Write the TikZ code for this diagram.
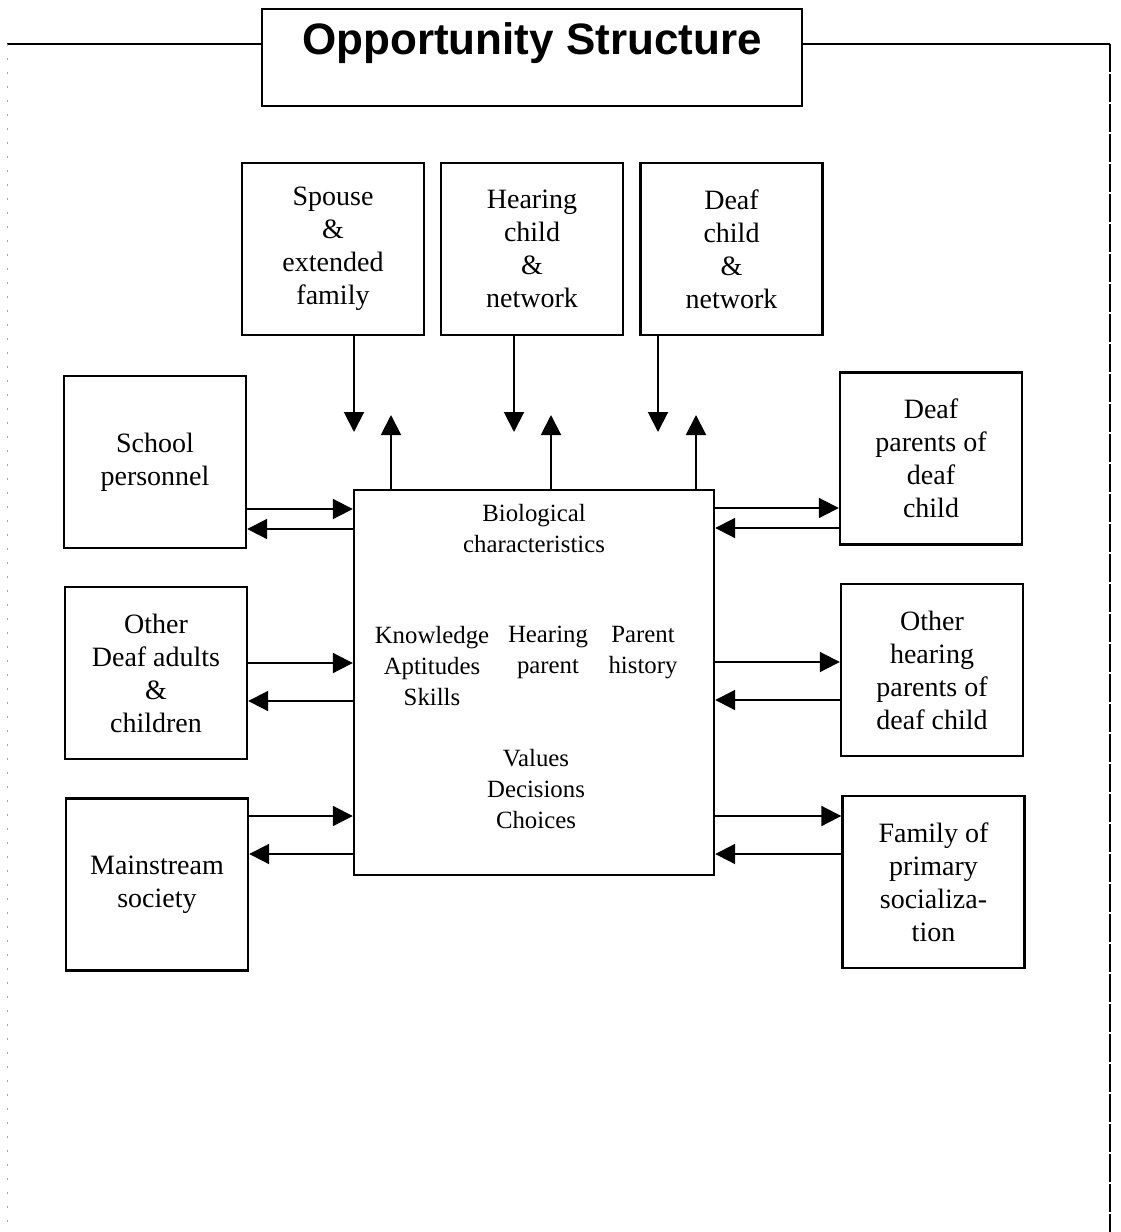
\documentclass[tikz,border=0pt]{standalone}
\usepackage{fontspec}
\setmainfont{Liberation Serif}
\newfontfamily\headfont{Liberation Sans}
\usetikzlibrary{positioning}
\usetikzlibrary{arrows.meta}

\begin{document}
\begin{tikzpicture}
[x=0.5pt,y=-0.5pt,
 box/.style={shape=rectangle,draw,line width=1.2pt,minimum width=91pt,minimum height=86pt,
  inner sep=0pt,align=center,font=\fontsize{14}{16.5}\selectfont},
 corebox/.style={shape=rectangle,draw,line width=1.2pt,minimum width=180pt,minimum height=192.5pt,inner sep=0pt},
 inside/.style={align=center,inner sep=0pt,font=\fontsize{12.4}{15.5}\selectfont},
 link/.style={line width=1pt,-{Triangle[length=10pt,width=10pt]}},
 frame/.style={line width=1pt}]

\useasboundingbox (0,0) rectangle (1120,1232);

\node (title) [draw,line width=1.2pt,minimum width=270pt,inner xsep=0pt,inner ysep=0pt,
  text height=22.5pt,text depth=26pt,anchor=north,
  font=\headfont\bfseries\fontsize{22}{26}\selectfont] at (532,8) {Opportunity Structure};

\coordinate (fl) at (7,44);
\coordinate (fr) at (1110,44);
\coordinate (flb) at (7,1232);
\coordinate (frb) at (1110,1232);
\draw [frame] (title.west |- fl) -- (fl);
\draw [frame] (title.east |- fr) -- (fr);
\draw [gray!70,line width=0.5pt,dash pattern=on 1pt off 6pt] (fl) -- (flb);
\draw [line width=0.7pt,dash pattern=on 14pt off 1pt] (fr) -- (frb);

\node (spouse) [box] at (333,249) {Spouse\\\&\\extended\\family};
\node (hchild) [box] at (532,249) {Hearing\\child\\\&\\network};
\node (dchild) [box] at (731.5,249) {Deaf\\child\\\&\\network};

\node (school) [box] at (155,462) {School\\personnel};
\node (dadults) [box] at (156,673) {Other\\Deaf adults\\\&\\children};
\node (mainstr) [box] at (157,884.5) {Mainstream\\society};

\node (dparents) [box] at (931,458.5) {Deaf\\parents of\\deaf\\child};
\node (hparents) [box] at (932,670) {Other\\hearing\\parents of\\deaf child};
\node (family) [box] at (933.5,882) {Family of\\primary\\socializa-\\tion};

\node (core) [corebox] at (534,682.5) {};
\node (bio) [inside,anchor=north] at (534,504) {Biological\\characteristics};
\node (kas) [inside,anchor=north] at (432,626) {Knowledge\\Aptitudes\\Skills};
\node (hpar) [inside,anchor=north] at (548,626) {Hearing\\parent};
\node (phist) [inside,anchor=north] at (643,626) {Parent\\history};
\node (vdc) [inside,anchor=north] at (536,749) {Values\\Decisions\\Choices};

\coordinate (sp-in) at (354,432);
\coordinate (sp-out) at (391,415);
\coordinate (hc-in) at (514,432);
\coordinate (hc-out) at (551,415);
\coordinate (dc-in) at (658,432);
\coordinate (dc-out) at (696,415);
\draw [link] (sp-in |- spouse.south) -- (sp-in);
\draw [link] (sp-out |- core.north) -- (sp-out);
\draw [link] (hc-in |- hchild.south) -- (hc-in);
\draw [link] (hc-out |- core.north) -- (hc-out);
\draw [link] (dc-in |- dchild.south) -- (dc-in);
\draw [link] (dc-out |- core.north) -- (dc-out);

\foreach \nm/\ya/\yb in {school/509/529,dadults/663/701,mainstr/816/854}
{
  \draw [link] (\nm.east |- 0,\ya) -- (core.west |- 0,\ya);
  \draw [link] (core.west |- 0,\yb) -- (\nm.east |- 0,\yb);
}
\foreach \nm/\ya/\yb in {dparents/508/528,hparents/662/700,family/816/854}
{
  \draw [link] (core.east |- 0,\ya) -- (\nm.west |- 0,\ya);
  \draw [link] (\nm.west |- 0,\yb) -- (core.east |- 0,\yb);
}
\end{tikzpicture}
\end{document}
